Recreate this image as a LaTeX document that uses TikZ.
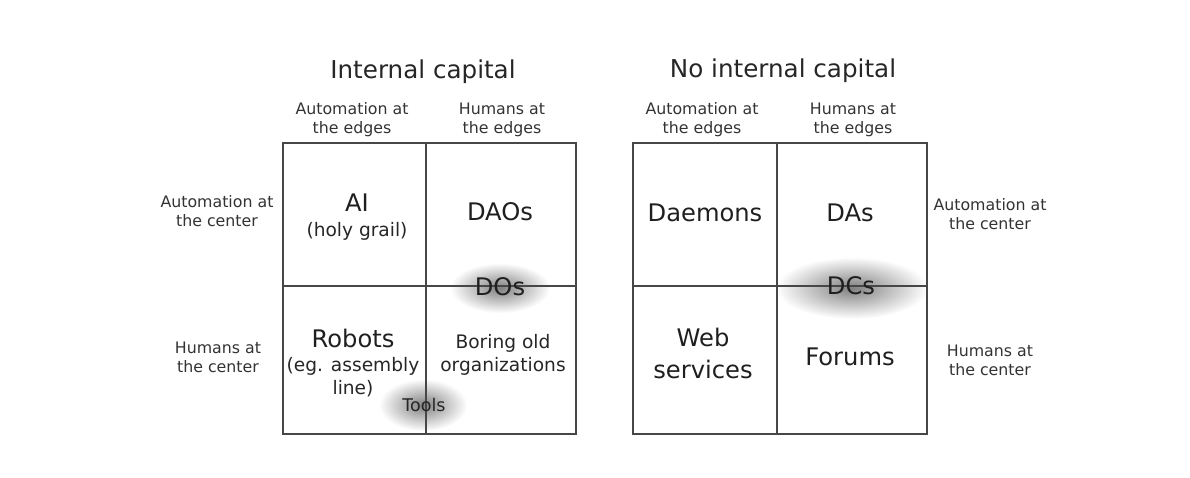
\documentclass[tikz,border=0pt]{standalone}
\usepackage{fontspec}
\setmainfont{DejaVu Sans}
\usetikzlibrary{fadings}

\tikzfading[name=glowfade, inner color=transparent!0, outer color=transparent!100]

\begin{document}
\begin{tikzpicture}[x=1pt, y=-1pt,
		title/.style={text=black!85, font=\fontsize{24.6}{28}\selectfont},
		axislabel/.style={text=black!80, align=center, font=\fontsize{15.8}{19}\selectfont},
		celltext/.style={text=black!88, font=\fontsize{24.2}{32}\selectfont, align=center},
		subtext/.style={text=black!85, font=\fontsize{18.6}{22.5}\selectfont, align=center},
		glow/.style={fill=black!50, path fading=glowfade},
		grid/.style={draw=black!72, line width=1.8pt}]
		\useasboundingbox (0,0) rectangle (1190,478);
		% Glows behind the border labels
		\fill[glow] (500,288) ellipse (50 and 25);
		\fill[glow] (852,288) ellipse (76 and 31);
		\fill[glow] (423,405) ellipse (44 and 26);
		
		% Draw the two grids
		\draw[grid] (283,143) rectangle (576,434);
		\draw[grid] (426,143) -- (426,434);
		\draw[grid] (283,286) -- (576,286);
		\draw[grid] (633,143) rectangle (927,434);
		\draw[grid] (777,143) -- (777,434);
		\draw[grid] (633,286) -- (927,286);
		
		% Titles
		\node[title] (intcap) at (423,72) {Internal capital};
		\node[title] (nointcap) at (783,71) {No internal capital};
		
		% Column labels
		\node[axislabel] (autoedgeL) at (352,120) {Automation at\\the edges};
		\node[axislabel] (humedgeL) at (502,120) {Humans at\\the edges};
		\node[axislabel] (autoedgeR) at (702,120) {Automation at\\the edges};
		\node[axislabel] (humedgeR) at (853,120) {Humans at\\the edges};
		
		% Row labels
		\node[axislabel] (autocenL) at (217,211) {Automation at\\the center};
		\node[axislabel] (humcenL) at (218,357) {Humans at\\the center};
		\node[axislabel] (autocenR) at (990,214) {Automation at\\the center};
		\node[axislabel] (humcenR) at (990,360) {Humans at\\the center};
		
		% Cells, internal capital
		\node[celltext] (ai) at (357,203) {AI};
		\node[subtext] (aisub) at (357,231) {(holy grail)};
		\node[celltext] (daos) at (500,212) {DAOs};
		\node[celltext] (dos) at (500,287) {DOs};
		\node[celltext] (robots) at (353,338) {Robots};
		\node[subtext] (robotssub) at (353,377) {(eg. assembly\\line)};
		\node[subtext] (boring) at (503,355) {Boring old\\organizations};
		\node[subtext, font=\fontsize{17.5}{20}\selectfont] (tools) at (424,405) {Tools};
		
		% Cells, no internal capital
		\node[celltext] (daemons) at (705,213) {Daemons};
		\node[celltext] (das) at (850,213) {DAs};
		\node[celltext] (dcs) at (851,286) {DCs};
		\node[celltext] (websrv) at (703,353) {Web\\services};
		\node[celltext] (forums) at (850,357) {Forums};
\end{tikzpicture}
\end{document}
